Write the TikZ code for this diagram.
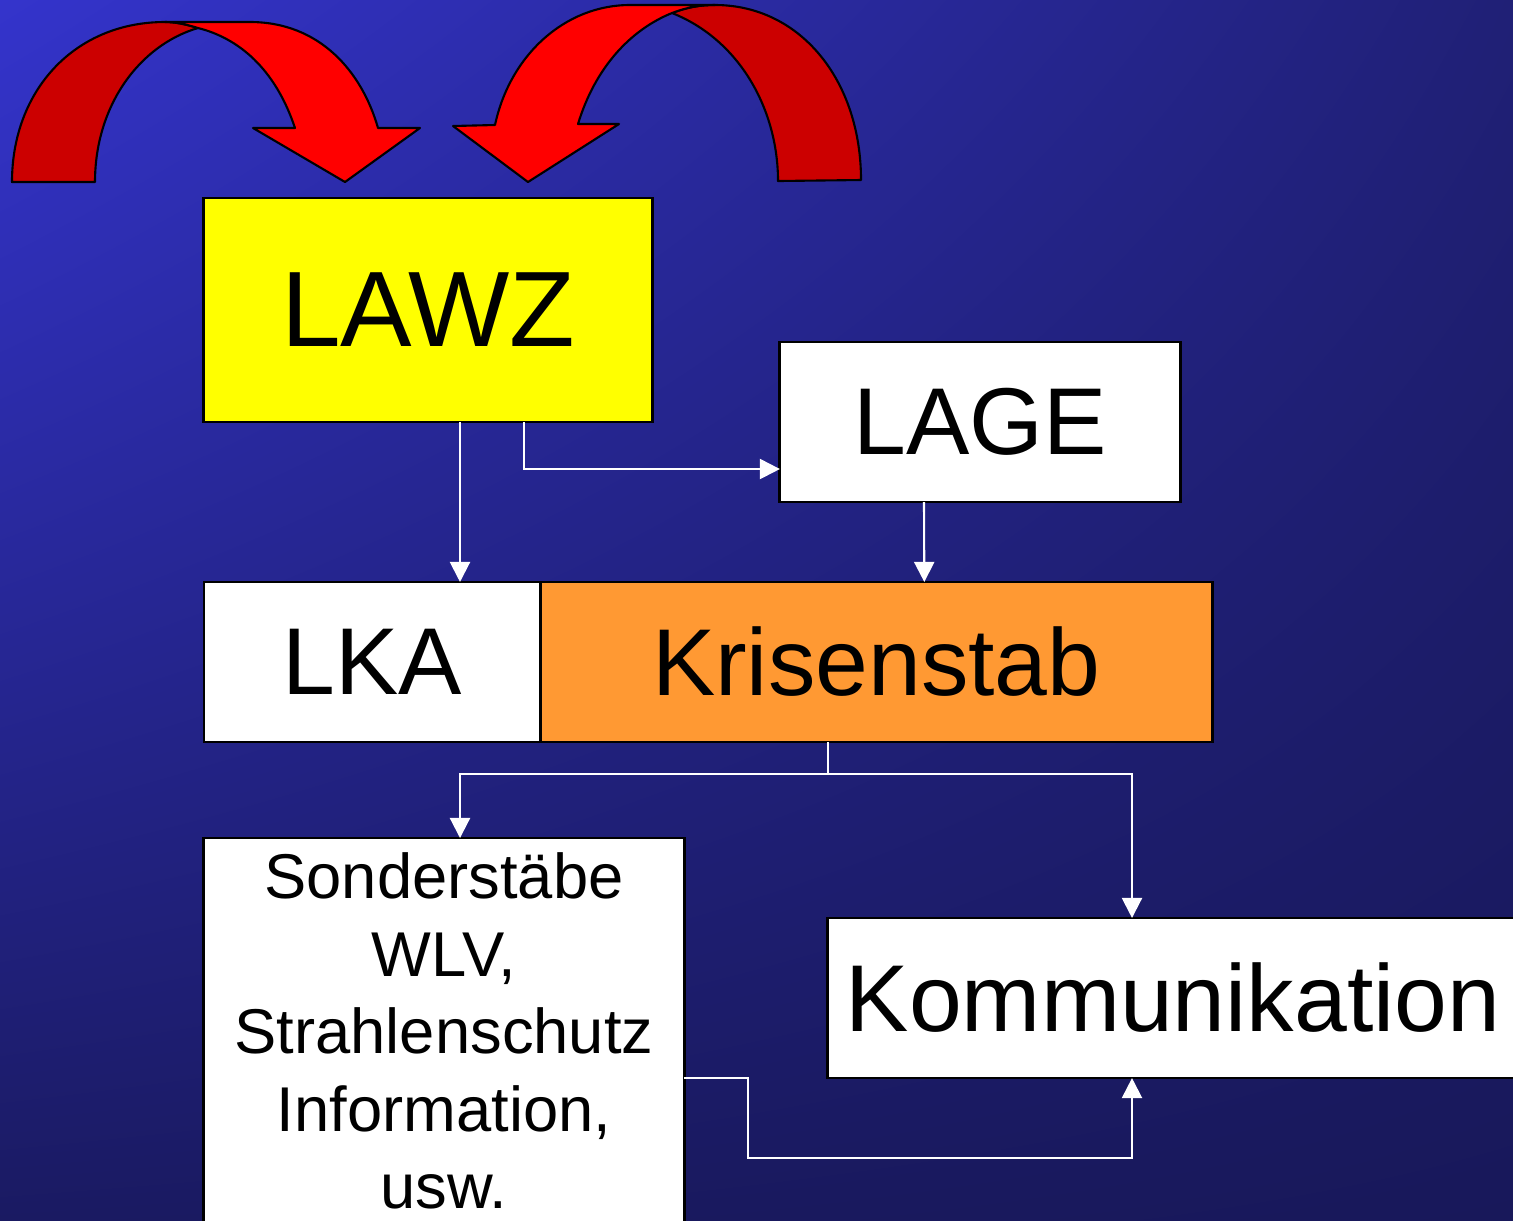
\documentclass[tikz,border=0pt]{standalone}
\usepackage{fontspec}
\setmainfont{Liberation Sans}
\usetikzlibrary{positioning, arrows.meta, shadings}

\definecolor{frontred}{RGB}{255,0,0}
\definecolor{backred}{RGB}{204,0,0}
\definecolor{lawzyellow}{RGB}{255,255,0}
\definecolor{krisenorange}{RGB}{255,153,51}
\definecolor{bgtl}{RGB}{52,52,204}
\definecolor{bgtr}{RGB}{32,32,118}
\definecolor{bgbl}{RGB}{26,26,98}
\definecolor{bgbr}{RGB}{24,24,90}

\begin{document}
\begin{tikzpicture}[x=0.01cm, y=-0.01cm,
    box/.style={draw=black, line width=0.8pt, inner sep=0pt, outer sep=0pt, text=black},
    big/.style={font=\fontsize{27}{32}\selectfont},
    conn/.style={draw=white, line width=0.6pt, -{Triangle[length=5.7pt,width=5.7pt]}},
    ribbon/.style={draw=black, line width=0.6pt, line join=round}]
        \useasboundingbox (0,0) rectangle (1513,1220);
        \shade[upper left=bgtl, upper right=bgtr, lower left=bgbl, lower right=bgbr] (0,0) rectangle (1513,1220);

        % curved arrows on top
        \path[ribbon, fill=backred] (12,182) -- (95,182) .. controls (95,105) and (140,45) .. (198,28)
          .. controls (185,24) and (175,22) .. (165,22) .. controls (75,22) and (12,90) .. (12,182) -- cycle;
        \path[ribbon, fill=frontred] (165,22) -- (250,22) .. controls (320,22) and (362,72) .. (378,128)
          -- (420,128) -- (345,182) -- (253,128) -- (295,128) .. controls (275,68) and (238,38) .. (198,28)
          .. controls (185,24) and (175,22) .. (165,22) -- cycle;
        \path[ribbon, fill=backred] (861,180) -- (778,181) .. controls (778,110) and (740,40) .. (672,13)
          .. controls (688,7) and (700,5) .. (715,5) .. controls (800,5) and (861,80) .. (861,180) -- cycle;
        \path[ribbon, fill=frontred] (715,5) -- (630,5) .. controls (565,5) and (510,55) .. (495,125)
          -- (453,126) -- (528,182) -- (619,124) -- (578,124) .. controls (595,68) and (630,30) .. (672,13)
          .. controls (688,7) and (700,5) .. (715,5) -- cycle;

        \node[box, fill=lawzyellow, minimum width=4.48cm, minimum height=2.24cm,
          font=\fontsize{30.5}{36}\selectfont] (lawz) at (428,310) {LAWZ};
        \node[box, big, fill=white, minimum width=4cm, minimum height=1.6cm] (lage) at (980,422) {LAGE};
        \node[box, big, fill=white, minimum width=3.36cm, minimum height=1.6cm] (lka) at (372,662) {LKA};
        \node[box, big, fill=krisenorange, minimum width=6.72cm, minimum height=1.6cm,
          right=0pt of lka] (krisen) {Krisenstab};
        \node[box, fill=white, minimum width=4.8cm, inner ysep=0.15cm, anchor=north, align=center,
          font=\fontsize{18}{22}\selectfont] (sonder) at (444,838)
          {Sonderstäbe\\ WLV,\\ Strahlenschutz\\ Information,\\ usw.};
        \node[box, big, fill=white, minimum width=6.9cm, minimum height=1.6cm] (komm) at (1173,998) {Kommunikation};

        \coordinate (split) at ([shift={(-48,32)}]krisen.south);

        \draw[conn] ([shift={(32,0)}]lawz.south) -- ([shift={(88,0)}]lka.north);
        \draw[conn] ([shift={(96,0)}]lawz.south) |- ([shift={(0,47)}]lage.west);
        \draw[conn] ([shift={(-56,0)}]lage.south) -- ([shift={(48,0)}]krisen.north);
        \draw[conn] ([shift={(-48,0)}]krisen.south) -- (split) -| ([shift={(16,0)}]sonder.north);
        \draw[conn] (split) -| ([shift={(-41,0)}]komm.north);
        \draw[conn] ([shift={(0,240)}]sonder.north east) -- ++(64,0) -- ++(0,80) -| ([shift={(-41,0)}]komm.south);
\end{tikzpicture}
\end{document}
